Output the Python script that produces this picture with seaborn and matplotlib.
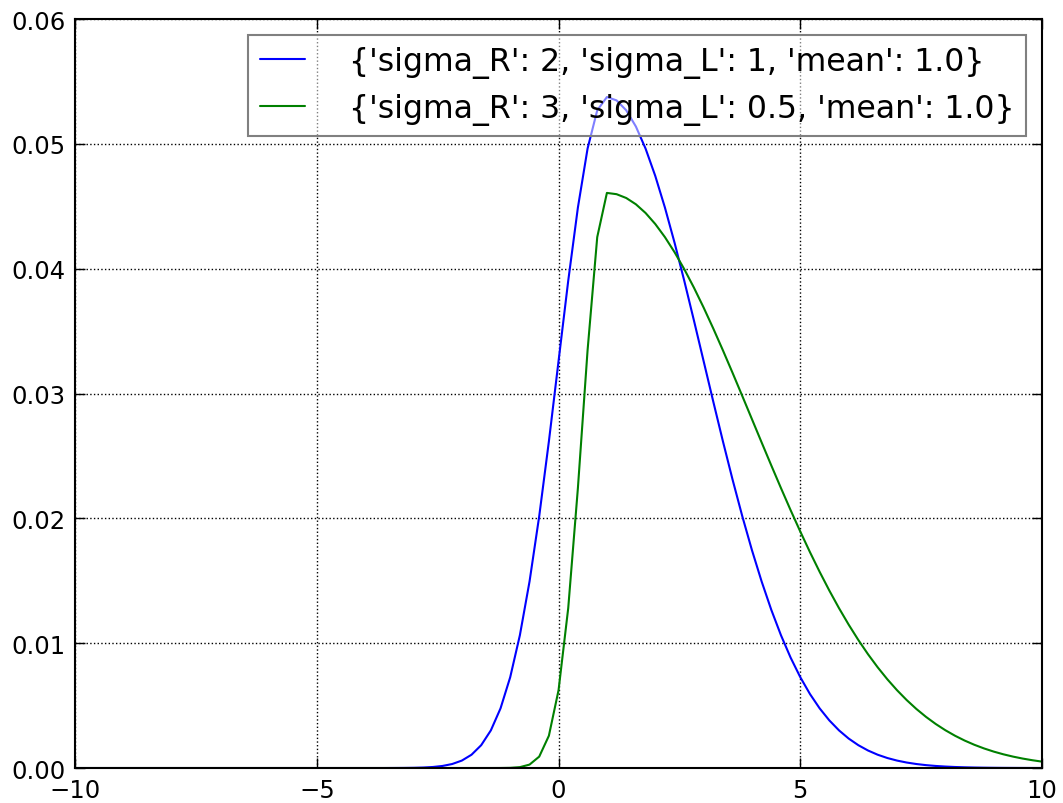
import numpy as np
import pandas as pd
import matplotlib
matplotlib.use("Agg")
import matplotlib.pyplot as plt
import seaborn as sns

# x grid (101 samples from -10 to 10, step 0.2)
x_values = np.linspace(-10, 10, 101)

label_a = "{'sigma_R': 2, 'sigma_L': 1, 'mean': 1.0}"
label_b = "{'sigma_R': 3, 'sigma_L': 0.5, 'mean': 1.0}"

# series A values (101 points)
series_a = [0.0] * 33 + [
    0.0000034, 0.0000080, 0.0000180, 0.0000393, 0.0000825, 0.000166,
    0.000321, 0.000597, 0.001066, 0.001830, 0.003017, 0.004780,
    0.007274, 0.010637, 0.014945, 0.020173, 0.026163, 0.032601,
    0.039031, 0.044896, 0.049618, 0.052686,
    0.053750,
    0.053482, 0.052686, 0.051385, 0.049617, 0.047434,
    0.044896, 0.042070, 0.039031, 0.035850, 0.032601,
    0.029352, 0.026163, 0.023089, 0.020173, 0.017450,
    0.014945, 0.012671, 0.010637, 0.008840, 0.007274,
    0.005926, 0.004780, 0.003817, 0.003017, 0.002362,
    0.001830, 0.001404, 0.001066, 0.000802, 0.000597,
    0.000440, 0.000321, 0.000232, 0.000166, 0.000118,
    0.0000824, 0.0000572, 0.0000393, 0.0000268, 0.0000180,
    0.0000120, 0.0000080, 0.0000052, 0.0000034, 0.0000022,
]

# series B values (101 points)
series_b = [0.0] * 43 + [
    0.0000005, 0.0000029, 0.0000154, 0.0000707, 0.000275, 0.000914,
    0.002586, 0.006235, 0.012809, 0.022425, 0.033454, 0.042528,
    0.046070,
    0.045968, 0.045662, 0.045158, 0.044461, 0.043580,
    0.042528, 0.041317, 0.039962, 0.038481, 0.036890,
    0.035208, 0.033454, 0.031646, 0.029803, 0.027943,
    0.026083, 0.024239, 0.022425, 0.020653, 0.018940,
    0.017291, 0.015715, 0.014219, 0.012809, 0.011488,
    0.010257, 0.009117, 0.008069, 0.007109, 0.006235,
    0.005445, 0.004733, 0.004097, 0.003530, 0.003028,
    0.002586, 0.002199, 0.001861, 0.001569, 0.001316,
    0.001099, 0.000914, 0.000757, 0.000624, 0.000512,
]

x_ticks = [-10, -5, 0, 5, 10]
y_ticks = [0.00, 0.01, 0.02, 0.03, 0.04, 0.05, 0.06]

sns.set_style("ticks")
plt.rcParams["font.family"] = ["DejaVu Sans"]
plt.rcParams["text.color"] = "black"
plt.rcParams["legend.labelcolor"] = "black"

df_a = pd.DataFrame({"x": x_values, "y": series_a})
df_b = pd.DataFrame({"x": x_values, "y": series_b})

fig = plt.figure(figsize=(10.63, 8.04), dpi=100)
ax = fig.add_axes([0.0706, 0.0435, 0.9803 - 0.0706, 0.9751 - 0.0435])

sns.lineplot(data=df_a, x="x", y="y", ax=ax, color="blue", linewidth=1.5, label=label_a)
sns.lineplot(data=df_b, x="x", y="y", ax=ax, color="green", linewidth=1.5, label=label_b)

ax.set_xlim(-10, 10)
ax.set_ylim(0, 0.06)
ax.set_xticks(x_ticks)
ax.set_yticks(y_ticks)
ax.set_yticklabels([f"{v:.2f}" for v in y_ticks])
ax.set_xlabel("")
ax.set_ylabel("")

ax.grid(True, linestyle=":", color="black", linewidth=1.0)
ax.set_axisbelow(True)
for s in ax.spines.values():
    s.set_visible(True)
    s.set_linewidth(1.5)
    s.set_color("black")

ax.tick_params(axis="both", direction="in", length=7, width=1.0, top=True, right=True,
               labelsize=17.5, pad=7, colors="black")

leg = ax.legend(loc="upper right", fontsize=22.7, frameon=True, fancybox=False,
                handlelength=1.43, handletextpad=1.4, borderpad=0.37,
                labelspacing=0.45, borderaxespad=0.5)
frame = leg.get_frame()
frame.set_alpha(None)
frame.set_facecolor((1, 1, 1, 0.5))
frame.set_edgecolor((0.5, 0.5, 0.5, 1.0))
frame.set_linewidth(1.5)
for t in leg.get_texts():
    t.set_color("black")

fig.savefig("out.png", dpi=100)
